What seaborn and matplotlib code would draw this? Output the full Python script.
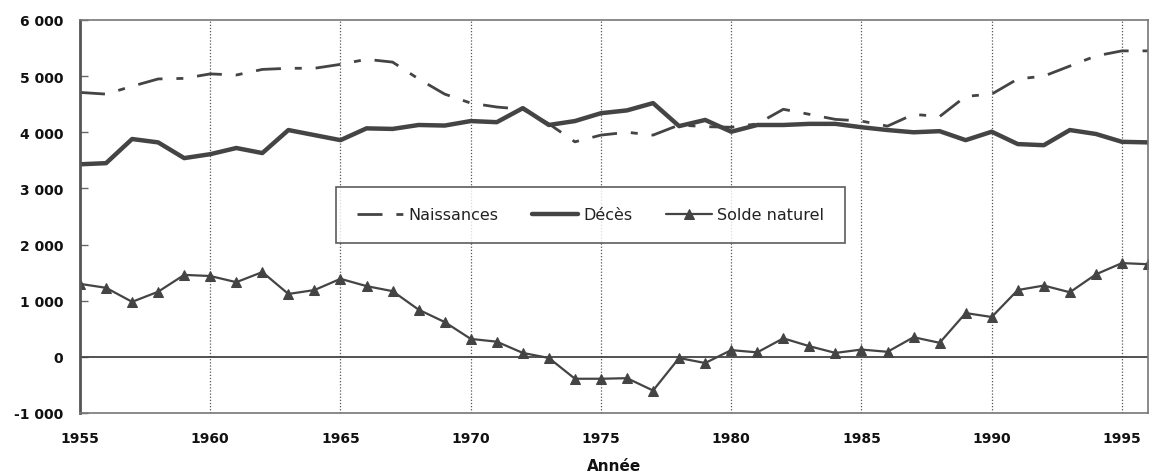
import matplotlib
matplotlib.use("Agg")
import matplotlib.pyplot as plt
import seaborn as sns
import pandas as pd
from matplotlib.ticker import FuncFormatter

years = list(range(1955, 1997))
naissances = [4710, 4680, 4820, 4950, 4960, 5040, 5020, 5120, 5140, 5140,
              5210, 5300, 5250, 4950, 4680, 4520, 4450, 4410, 4150, 3830,
              3950, 4000, 3950, 4130, 4100, 4090, 4150, 4410, 4320, 4230,
              4200, 4110, 4320, 4280, 4640, 4680, 4950, 5000, 5180, 5360,
              5450, 5450]
deces = [3430, 3450, 3880, 3820, 3540, 3610, 3720, 3630, 4040, 3950,
         3860, 4070, 4060, 4130, 4120, 4200, 4180, 4430, 4130, 4200,
         4340, 4390, 4520, 4110, 4220, 4010, 4130, 4130, 4150, 4150,
         4090, 4040, 4000, 4020, 3860, 4010, 3790, 3770, 4040, 3970,
         3830, 3820]
solde = [1300, 1230, 980, 1160, 1460, 1440, 1330, 1510, 1120, 1190,
         1390, 1260, 1170, 840, 620, 320, 270, 70, -20, -390,
         -390, -380, -600, -20, -110, 120, 80, 330, 190, 70,
         130, 90, 350, 250, 780, 710, 1190, 1270, 1150, 1470,
         1670, 1650]
labels = ["Naissances", "Décès", "Solde naturel"]
yticks = [-1000, 0, 1000, 2000, 3000, 4000, 5000, 6000]
xticks = [1955, 1960, 1965, 1970, 1975, 1980, 1985, 1990, 1995]

sns.set_theme(style="white")
plt.rcParams['font.family'] = ['DejaVu Sans']

df = pd.DataFrame({"Année": years, labels[0]: naissances,
                   labels[1]: deces, labels[2]: solde})

fig = plt.figure(figsize=(11.51, 4.77), dpi=100)
ax = fig.add_axes([80/1151, 1-414/477, 1068/1151, 393/477])

col = "#444444"
for xv in xticks[1:]:
    ax.axvline(xv, color="#555555", lw=0.9, ls=(0, (1, 1.5)), zorder=0)
ax.axhline(0, color=col, lw=1.3, zorder=1)

sns.lineplot(data=df, x="Année", y=labels[0], ax=ax, color=col, lw=2.0,
             label=labels[0])
ax.lines[-1].set_dashes((9, 5, 2.5, 5))
sns.lineplot(data=df, x="Année", y=labels[1], ax=ax, color=col, lw=3.2,
             label=labels[1])
sns.lineplot(data=df, x="Année", y=labels[2], ax=ax, color=col, lw=1.6,
             marker="^", markersize=7, markeredgecolor=col, label=labels[2])

ax.set_xlim(1955, 1996)
ax.set_ylim(-1000, 6000)
ax.set_xticks(xticks)
ax.set_yticks(yticks)
fmt = lambda v, p: f"{int(v):,}".replace(",", " ")
ax.yaxis.set_major_formatter(FuncFormatter(fmt))
for lab in ax.get_xticklabels() + ax.get_yticklabels():
    lab.set_fontweight("bold")
    lab.set_fontsize(10)
    lab.set_color("#111111")
ax.tick_params(axis="y", length=6, width=1, color="#666666", direction="in",
               left=True, pad=12)
ax.tick_params(axis="x", length=0, pad=13)
ax.set_ylabel("")
ax.set_xlabel("Année", fontweight="bold", fontsize=11, labelpad=9,
              color="#111111")

for side in ["left", "right", "top", "bottom"]:
    ax.spines[side].set_visible(True)
    ax.spines[side].set_color("#777777")
ax.spines["left"].set_linewidth(2)
ax.spines["left"].set_color("#555555")
ax.spines["top"].set_linewidth(1.2)
ax.spines["bottom"].set_linewidth(1.2)
ax.spines["right"].set_linewidth(1.2)

leg = ax.legend(loc="center", bbox_to_anchor=(0.478, 0.504), ncol=3,
                frameon=True, fancybox=False, edgecolor="#333333",
                fontsize=11.5, handlelength=2.9, columnspacing=2.1,
                handletextpad=0.3, borderpad=1.3, borderaxespad=0)
leg.get_frame().set_linewidth(1.2)
for t in leg.get_texts():
    t.set_color("#222222")

fig.savefig("out.png", dpi=100)
